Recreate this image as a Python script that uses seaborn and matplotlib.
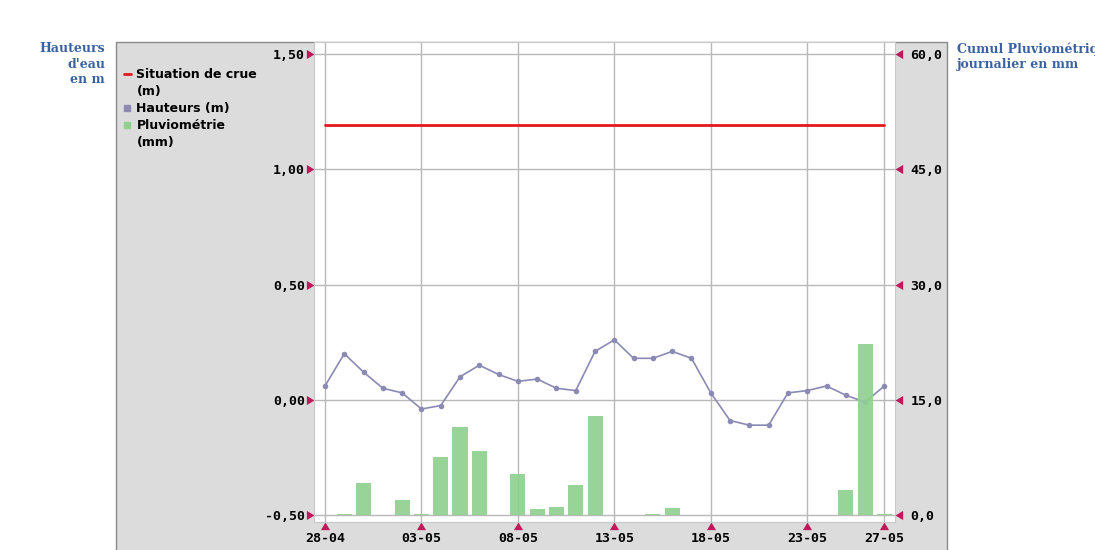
import numpy as np
import pandas as pd
import seaborn as sns
import matplotlib.pyplot as plt
from matplotlib.lines import Line2D
from matplotlib.patches import Rectangle
from matplotlib.path import Path

# Données journalières (28-04 au 27-05)
jours = ['28-04', '29-04', '30-04', '01-05', '02-05', '03-05', '04-05', '05-05',
         '06-05', '07-05', '08-05', '09-05', '10-05', '11-05', '12-05', '13-05',
         '14-05', '15-05', '16-05', '17-05', '18-05', '19-05', '20-05', '21-05',
         '22-05', '23-05', '24-05', '25-05', '26-05', '27-05']
hauteurs = [0.06, 0.20, 0.12, 0.05, 0.03, -0.04, -0.025, 0.10, 0.15, 0.11,
            0.08, 0.09, 0.05, 0.04, 0.21, 0.26, 0.18, 0.18, 0.21, 0.18,
            0.03, -0.09, -0.11, -0.11, 0.03, 0.04, 0.06, 0.02, -0.01, 0.06]
pluvio = [0.0, 0.2, 4.2, 0.0, 2.0, 0.2, 7.5, 11.5, 8.4, 0.0,
          5.4, 0.8, 1.1, 3.9, 12.9, 0.0, 0.0, 0.2, 0.9, 0.0,
          0.0, 0.0, 0.0, 0.0, 0.0, 0.0, 0.0, 3.2, 22.3, 0.2]
seuil_crue = 1.19

ticks_dates = ['28-04', '03-05', '08-05', '13-05', '18-05', '23-05', '27-05']
ticks_h = [-0.5, 0.0, 0.5, 1.0, 1.5]
labels_h = ['-0,50', '0,00', '0,50', '1,00', '1,50']
ticks_p = [0, 15, 30, 45, 60]
labels_p = ['0,0', '15,0', '30,0', '45,0', '60,0']

df = pd.DataFrame({'jour': np.arange(len(jours)), 'date': jours,
                   'hauteur': hauteurs, 'pluie': pluvio})

couleurs = {
    'crue': '#e3181c',
    'hauteur': '#8a8ab4',
    'pluie': '#8fd18f',
    'tick': '#c0185a',
    'titre': '#3a62a0',
}

sns.set_style('white')

fig = plt.figure(figsize=(10.95, 5.5), dpi=100)
W, H = 1095, 550

# panneau gris derrière le graphique
fig.patches.append(Rectangle((116 / W, -0.05), (947 - 116) / W, 1 - 42 / H + 0.05,
                             transform=fig.transFigure, facecolor='#dcdcdc',
                             edgecolor='#8a8a8a', lw=1, zorder=-10))

ax = fig.add_axes([314 / W, 1 - 522 / H, (895 - 314) / W, (522 - 42) / H])
ax.set_facecolor('white')

sns.lineplot(x=df['jour'], y=[seuil_crue] * len(df), color=couleurs['crue'],
             lw=2, ax=ax)
sns.lineplot(data=df, x='jour', y='hauteur', color=couleurs['hauteur'],
             marker='o', markersize=4, markeredgewidth=0, lw=1.2, ax=ax)

ax2 = ax.twinx()
sns.barplot(data=df, x='jour', y='pluie', native_scale=True, width=0.78,
            color=couleurs['pluie'], saturation=1, alpha=0.92, errorbar=None,
            linewidth=0, ax=ax2)

# échelles
lo, hi = -0.530, 1.552
ax.set_ylim(lo, hi)
ax2.set_ylim(30 * (lo + 0.5), 30 * (hi + 0.5))
ax.set_xlim(-0.57, 29.55)

ax.set_xticks([jours.index(d) for d in ticks_dates])
ax.set_xticklabels(ticks_dates)
ax.set_yticks(ticks_h)
ax.set_yticklabels(labels_h)
ax2.set_yticks(ticks_p)
ax2.set_yticklabels(labels_p)
ax.set_xlabel('')
ax.set_ylabel('')
ax2.set_ylabel('')

ax.grid(True, color='#b8b8b8', lw=1)
ax.set_axisbelow(True)
for s in ax.spines.values():
    s.set_color('#c8c8c8')
for s in ax2.spines.values():
    s.set_visible(False)

ax.tick_params(axis='y', left=True, length=0, pad=6.5)
ax.tick_params(axis='x', bottom=True, length=0, pad=7)
ax2.tick_params(axis='y', right=True, length=0, pad=11)

# petits triangles à la place des graduations
tri_g = Path([(-1, -0.6), (0, 0), (-1, 0.6), (-1, -0.6)], closed=True)
tri_d = Path([(1, -0.6), (0, 0), (1, 0.6), (1, -0.6)], closed=True)
tri_b = Path([(-0.6, -1), (0, 0), (0.6, -1), (-0.6, -1)], closed=True)

def marquer(lignes, forme):
    for ln in lignes:
        ln.set_marker(forme)
        ln.set_markersize(11)
        ln.set_markerfacecolor(couleurs['tick'])
        ln.set_markeredgecolor(couleurs['tick'])
        ln.set_markeredgewidth(0)

marquer([t.tick1line for t in ax.yaxis.get_major_ticks()], tri_g)
marquer([t.tick1line for t in ax.xaxis.get_major_ticks()], tri_b)
marquer([t.tick2line for t in ax2.yaxis.get_major_ticks()], tri_d)

for lab in ax.get_xticklabels() + ax.get_yticklabels() + ax2.get_yticklabels():
    lab.set_fontfamily('DejaVu Sans Mono')
    lab.set_fontweight('bold')
    lab.set_fontsize(9.5)
    lab.set_color('black')

# légende
handles = [
    Line2D([], [], color=couleurs['crue'], lw=2),
    Line2D([], [], lw=0),
    Line2D([], [], color=couleurs['hauteur'], marker='s', ls='none', markersize=4.5),
    Line2D([], [], color=couleurs['pluie'], marker='s', ls='none', markersize=4.5),
    Line2D([], [], lw=0),
]
labels = ['Situation de crue', '(m)', 'Hauteurs (m)', 'Pluviométrie', '(mm)']
leg = fig.legend(handles, labels, loc='upper left', bbox_to_anchor=(124 / W, 1 - 68 / H),
                 frameon=False, borderpad=0, borderaxespad=0, handlelength=0.55,
                 handletextpad=0.45, labelspacing=0.32,
                 prop={'family': 'DejaVu Sans', 'weight': 'bold', 'size': 9})
for t in leg.get_texts():
    t.set_color('black')

# titres des axes
fig.text(105 / W, 1 - 42 / H, "Hauteurs\nd'eau\nen m", ha='right', va='top',
         multialignment='right', family='DejaVu Serif', weight='bold',
         size=9, color=couleurs['titre'], linespacing=1.25)
fig.text(957 / W, 1 - 42 / H, "Cumul Pluviométrique\njournalier en mm",
         ha='left', va='top', family='DejaVu Serif', weight='bold',
         size=9, color=couleurs['titre'], linespacing=1.25)

fig.savefig('out.png', dpi=100)
